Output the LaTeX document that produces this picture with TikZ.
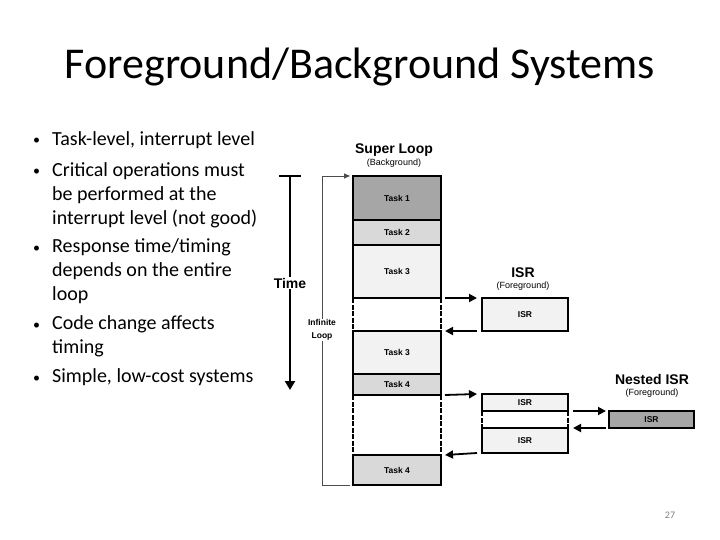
\documentclass[tikz,border=0pt]{standalone}
\usepackage{fontspec}
\setmainfont{Carlito}
\newfontfamily\diagfont{Liberation Sans}
\usetikzlibrary{arrows.meta, positioning, calc}
\definecolor{taskdark}{gray}{0.65}
\definecolor{taskmid}{gray}{0.85}
\definecolor{tasklight}{gray}{0.95}

\begin{document}
\begin{tikzpicture}[x=1pt, y=-1pt,
  box/.style={draw, line width=1.6pt, anchor=north west, inner sep=0pt, outer sep=0pt,
    minimum width=88pt, font=\diagfont\bfseries\fontsize{8.5}{10}\selectfont},
  gap/.style={anchor=north west, inner sep=0pt, outer sep=0pt, minimum width=88pt},
  gapside/.style={line width=1.6pt, dash pattern=on 5pt off 1.5pt},
  flow/.style={line width=1.8pt, -{Triangle[length=8pt,width=8pt]}},
  head/.style={font=\diagfont\bfseries\fontsize{14}{16}\selectfont},
  sub/.style={font=\diagfont\fontsize{9}{10}\selectfont},
  bullet/.style={anchor=north west, align=left, inner sep=0pt, font=\fontsize{20}{24}\selectfont}]
  \fill[white] (0,0) rectangle (720,540);
  \useasboundingbox (0,0) rectangle (720,540);

  % Title and list
  \node[font=\fontsize{44}{52}\selectfont] (title) at (360,67) {Foreground/Background Systems};
  \foreach \y/\txt [count=\i] in {146/{Task-level, interrupt level},
      177/{Critical operations must\\be performed at the\\interrupt level (not good)},
      253/{Response time/timing\\depends on the entire\\loop},
      330/{Code change affects\\timing},
      383/{Simple, low-cost systems}} {
    \node[anchor=base west, inner sep=0pt, font=\fontsize{14}{16}\selectfont] (dot\i) at (33,\y-1) {•};
    \node[bullet] (item\i) at (52,\y-14.5) {\txt};
  }

  % Super loop
  \node[head] (sltitle) at (394,150) {Super Loop};
  \node[sub] (slsub) at (394,163) {(Background)};
  \node[box, fill=taskdark, minimum height=44pt] (t1) at (353,176) {Task 1};
  \node[box, fill=taskmid, minimum height=25pt] (t2) at (353,220) {Task 2};
  \node[box, fill=tasklight, minimum height=53pt] (t3a) at (353,245) {Task 3};
  \node[gap, minimum height=33pt] (gap1) at (353,298) {};
  \node[box, fill=tasklight, minimum height=43pt] (t3b) at (353,331) {Task 3};
  \node[box, fill=taskmid, minimum height=21pt] (t4a) at (353,374) {Task 4};
  \node[gap, minimum height=60pt] (gap2) at (353,395) {};
  \node[box, fill=taskmid, minimum height=30pt] (t4b) at (353,455) {Task 4};

  % ISR
  \node[head] (isrtitle) at (523,273) {ISR};
  \node[sub] (isrsub) at (523,286) {(Foreground)};
  \node[box, fill=tasklight, minimum width=86pt, minimum height=33pt] (isr) at (482,298) {ISR};
  \node[box, fill=tasklight, minimum width=86pt, minimum height=17pt] (isra) at (482,394) {ISR};
  \node[gap, minimum width=86pt, minimum height=17pt] (gap3) at (482,411) {};
  \node[box, fill=tasklight, minimum width=86pt, minimum height=25pt] (isrb) at (482,428) {ISR};

  % Nested ISR
  \node[head] (nisrtitle) at (652,379) {Nested ISR};
  \node[sub] (nisrsub) at (652,393) {(Foreground)};
  \node[box, fill=taskdark, minimum width=85pt, minimum height=17pt] (nisr) at (609,411) {ISR};

  \foreach \g in {gap1,gap2,gap3} {
    \draw[gapside] (\g.north west) -- (\g.south west);
    \draw[gapside] (\g.north east) -- (\g.south east);
  }

  \draw[flow] ([xshift=4pt]t3a.south east) -- ([xshift=-5pt]isr.north west);
  \draw[flow] ([xshift=-5pt]isr.south west) -- ([xshift=4pt]t3b.north east);
  \draw[flow] ([xshift=4pt]t4a.south east) -- ([xshift=-5pt]isra.north west);
  \draw[flow] ([xshift=-5pt]isrb.south west) -- ([xshift=4pt]t4b.north east);
  \draw[flow] ([xshift=5pt]isra.south east) -- ([xshift=-3pt]nisr.north west);
  \draw[flow] ([xshift=-3pt]nisr.south west) -- ([xshift=5pt]isrb.north east);

  % Time axis
  \coordinate (ttop) at (290,176);
  \coordinate (tbot) at (290,390);
  \draw[line width=2pt] ([xshift=-11pt]ttop) -- ([xshift=11pt]ttop);
  \draw[line width=2pt, -{Triangle[length=9pt,width=10pt]}] (ttop) -- (tbot);
  \node[head, fill=white, inner sep=1pt] (time) at (290,283) {Time};

  % Infinite loop
  \draw[gray!60!black, line width=0.8pt, -{Triangle[length=6pt,width=5pt]}]
    ([xshift=-3pt]t4b.south west) -- ++(-28pt,0) |- ([xshift=-3pt]t1.north west);
  \node[fill=white, align=center, inner sep=1pt, font=\diagfont\bfseries\fontsize{8.5}{13}\selectfont] (inf) at (322,330) {Infinite\\Loop};

  \node[text=gray, font=\fontsize{10}{12}\selectfont] (pagenum) at (670,515) {27};
\end{tikzpicture}
\end{document}
